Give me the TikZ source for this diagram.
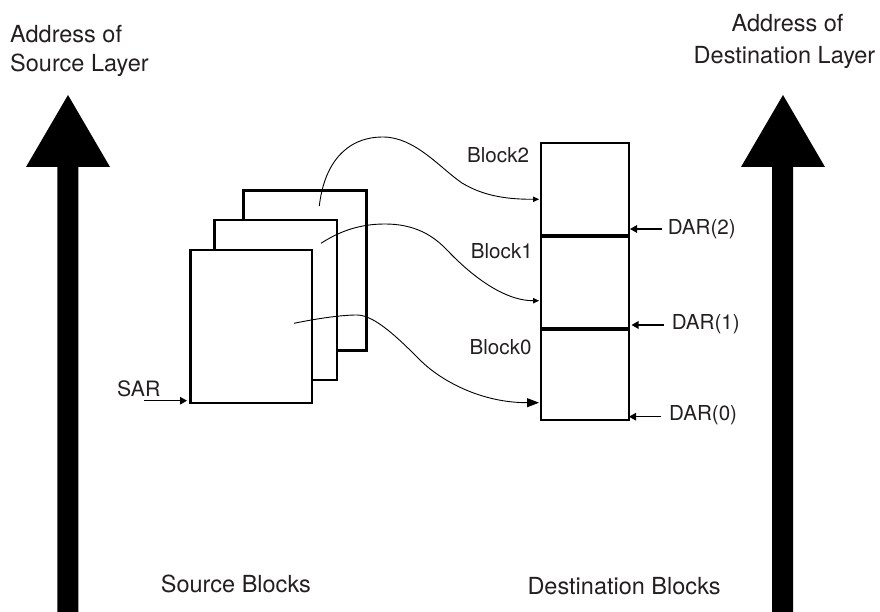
\documentclass[tikz,border=0pt]{standalone}
\usepackage{fontspec}
\setmainfont{TeX Gyre Heros}
\usetikzlibrary{arrows.meta}
\definecolor{ink}{HTML}{231F20}
\begin{document}
\begin{tikzpicture}[x=1pt,y=-1pt,
  page/.style={draw, fill=white, line width=2.4pt, inner sep=0pt, anchor=north west},
  dblock/.style={draw, line width=1.9pt, inner sep=0pt, anchor=north west, minimum width=87.7pt},
  lbl/.style={inner sep=0pt, text=ink},
  biglbl/.style={lbl, font=\fontsize{23.5}{29}\selectfont},
  smlbl/.style={lbl, font=\fontsize{20.6}{24}\selectfont},
  conn/.style={line width=0.9pt, -{Triangle[length=6pt,width=5.5pt]}},
  connbig/.style={line width=0.9pt, -{Triangle[length=12pt,width=9pt]}},
  ptr/.style={line width=1.3pt, -{Triangle[length=7pt,width=7.5pt]}},
  divider/.style={line width=3pt},
  bigarrow/.style={fill=black}
]
\useasboundingbox (0,0) rectangle (880,612);

% big address arrows
\fill[bigarrow] (57.3,612) -- (57.3,167) -- (26,167) -- (68,95) -- (110,167) -- (78.3,167) -- (78.3,612) -- cycle;
\fill[bigarrow] (772,612) -- (772,167) -- (741,167) -- (783,95) -- (825,167) -- (793,167) -- (793,612) -- cycle;

% top labels
\node[biglbl, anchor=base west] (srcaddr1) at (10,43) {Address of};
\node[biglbl, anchor=base west] (srcaddr2) at (10,72) {Source Layer};
\node[biglbl, anchor=base] (dstaddr1) at (787.5,31.7) {Address of};
\node[biglbl, anchor=base] (dstaddr2) at (784.5,63.3) {Destination Layer};

% bottom labels
\node[biglbl, anchor=base west] (srcblk) at (160.7,592.3) {Source Blocks};
\node[biglbl, anchor=base west] (dstblk) at (527.3,594.3) {Destination Blocks};

% source pages
\node[page, minimum width=123pt, minimum height=160pt] (p2) at (242.3,189.3) {};
\node[page, minimum width=122.7pt, minimum height=159.7pt] (p1) at (213.3,219) {};
\node[page, minimum width=121.4pt, minimum height=152.7pt] (p0) at (189.3,249) {};

% destination blocks
\node[dblock, minimum height=92.6pt] (d2) at (540,141.7) {};
\node[dblock, minimum height=93pt] (d1) at (540,234.3) {};
\node[dblock, minimum height=92pt] (d0) at (540,327.3) {};
\draw[divider] (d2.south west) -- (d2.south east);
\draw[divider] (d1.south west) -- (d1.south east);

% block labels
\node[smlbl, anchor=base east] (b2) at (529.3,162.3) {Block2};
\node[smlbl, anchor=base east] (b1) at (533,258.3) {Block1};
\node[smlbl, anchor=base east] (b0) at (531.7,354) {Block0};

% curve connectors
\coordinate (s2) at (319.3,206);
\coordinate (s1) at (321,243.3);
\coordinate (s0) at (294,323.3);
\coordinate (e2) at (539,199.3);
\coordinate (e1) at (539,300.7);
\coordinate (e0) at (539,402.7);
\draw[conn] (s2) .. controls (324,165) and (345,137) .. (383,137)
  .. controls (415,137) and (440,168) .. (462,183)
  .. controls (485,197) and (510,199.3) .. (e2);
\draw[conn] (s1) .. controls (340,231) and (360,224) .. (385,224)
  .. controls (410,224) and (430,232) .. (447,250)
  .. controls (465,269) and (500,300.7) .. (e1);
\draw[connbig] (s0) .. controls (315,319) and (340,315) .. (357,315)
  .. controls (375,315) and (400,340) .. (420,360)
  .. controls (440,380) and (480,402.7) .. (e0);

% DAR pointers
\node[smlbl, anchor=base west] (dar2) at (667.7,235) {DAR(2)};
\node[smlbl, anchor=base west] (dar1) at (671.7,329) {DAR(1)};
\node[smlbl, anchor=base west] (dar0) at (669,420.7) {DAR(0)};
\coordinate (t2) at (630,229);
\coordinate (t1) at (631.5,325);
\coordinate (t0) at (629,416.7);
\draw[ptr] (662,229) -- (t2);
\draw[ptr] (663.5,325) -- (t1);
\draw[ptr] (661,416.7) -- (t0);

% SAR pointer
\node[smlbl, font=\fontsize{21.2}{24}\selectfont, anchor=base west] (sar) at (117,396) {SAR};
\coordinate (sarend) at (187,400.7);
\draw[ptr] (144,400.7) -- (sarend);
\end{tikzpicture}
\end{document}
